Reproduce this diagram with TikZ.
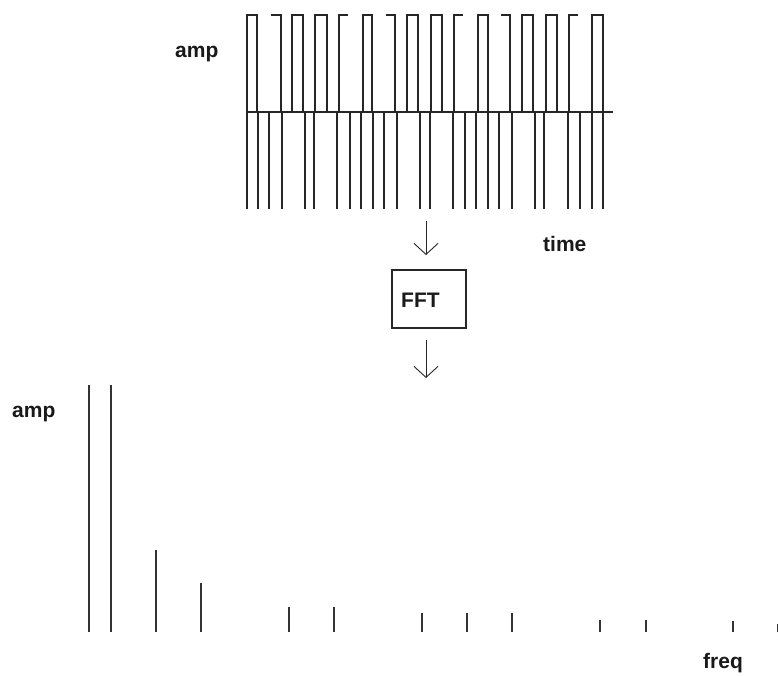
\documentclass[tikz,border=0pt]{standalone}
\usepackage{fontspec}
\setmainfont{Liberation Sans}
\usetikzlibrary{arrows.meta}
\begin{document}
\begin{tikzpicture}[x=1pt,y=-1pt,
  wave/.style={line width=1.7pt, draw=black!85},
  spec/.style={line width=1.8pt, draw=black!80},
  lbl/.style={font=\fontsize{21}{21}\selectfont\bfseries, inner sep=0pt, text=black!90},
  arr/.style={line width=0.9pt, draw=black!85, -{Straight Barb[length=11pt,width=24pt,line width=0.9pt]}},
  box/.style={draw=black!85, line width=1.4pt, minimum width=74pt, minimum height=58pt, inner sep=0pt}]
\useasboundingbox (0,0) rectangle (778,675);
\fill[white] (0,0) rectangle (778,675);
% top waveform: upper humps
\foreach \l/\r in {247/257,292/303,315/327,363/372,407/418,431/442,478/488,522/533,546/557,592/603}
  \draw[wave] (\l,112) -- (\l,15) -- (\r,15) -- (\r,112);
\foreach \l/\r in {271/281,386/395,501/510}
  \draw[wave] (\l,15) -- (\r,15) -- (\r,112);
\foreach \l/\r in {339/348,454/463,569/578}
  \draw[wave] (\l,112) -- (\l,15) -- (\r,15);
% lower verticals
\foreach \x in {247,258,269,282,305,314,337,350,361,373,384,397,420,430,453,465,476,488,499,512,535,544,568,580,592,603}
  \draw[wave] (\x,112) -- (\x,209);
% axis
\draw[wave] (247,112) -- (613,112);
% labels
\node[lbl, anchor=base west] (amptop) at (175,57) {amp};
\node[lbl, anchor=base west] (time) at (543,251) {time};
\node[lbl, anchor=base west] (ampbot) at (12,417) {amp};
\node[lbl, anchor=base west] (freq) at (703,668) {freq};
% FFT box and arrows
\node[box] (fft) at (429,299) {};
\node[lbl, anchor=west] (ffttxt) at (401,300) {FFT};
\coordinate (a1s) at (426,221);
\coordinate (a1e) at (426,255);
\coordinate (a2s) at (426,340);
\coordinate (a2e) at (426,378);
\draw[arr] (a1s) -- (a1e);
\draw[arr] (a2s) -- (a2e);
% spectrum
\foreach \x/\t in {89/385,111/385,156/550,201/583,289/607,334/607,422/613,467/613,512/613,600/620,646/620,733/621,777.5/624}
  \draw[spec] (\x,632) -- (\x,\t);
\end{tikzpicture}
\end{document}
